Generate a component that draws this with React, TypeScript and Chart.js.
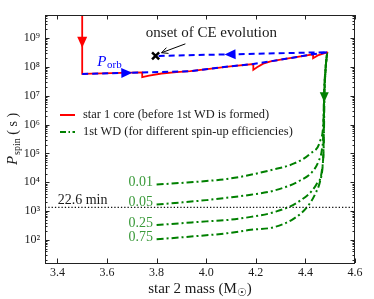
import React, { useEffect, useRef } from "react";
import { Chart, registerables } from "chart.js";
Chart.register(...registerables);

const SERIF = '"Liberation Serif", "DejaVu Serif", serif';

// axis ticks
const xTickValues = [3.4, 3.6, 3.8, 4.0, 4.2, 4.4, 4.6];
const yTickValues = [1e2, 1e3, 1e4, 1e5, 1e6, 1e7, 1e8, 1e9];

// star 1 core (before 1st WD is formed)
const coreMass = [3.5, 3.5, 3.7, 3.742, 3.742, 3.77, 3.82, 3.88, 3.936, 4.097, 4.19, 4.19, 4.205, 4.23, 4.26, 4.3, 4.431, 4.431, 4.45, 4.49];
const corePspin = [1e10, 5.7e7, 6.3e7, 6.4e7, 4.4e7, 5.0e7, 5.9e7, 6.6e7, 7.1e7, 1.05e8, 1.26e8, 7.9e7, 9.8e7, 1.3e8, 1.55e8, 1.78e8, 2.75e8, 2.0e8, 2.5e8, 3.24e8];

// orbital period path
const orbitMass = [3.5, 3.7, 3.936, 4.097, 4.19, 4.3, 4.431, 4.49, 3.796];
const orbitP = [5.7e7, 6.3e7, 7.1e7, 1.05e8, 1.26e8, 1.78e8, 2.75e8, 3.24e8, 2.4e8];

// onset of CE evolution
const ceMass = [3.796];
const ceP = [2.4e8];

// 22.6 min reference
const refMass = [3.35, 4.6];
const refP = [1356, 1356];

// 1st WD curves for spin-up efficiencies
const wdLabels = ["0.01", "0.05", "0.25", "0.75"];
const wd001Mass = [3.8, 3.9, 4.0, 4.084, 4.17, 4.258, 4.352, 4.419, 4.46, 4.473, 4.476, 4.482, 4.488];
const wd001P = [8.3e3, 9.5e3, 1.1e4, 1.3e4, 1.75e4, 2.6e4, 4.4e4, 9.8e4, 2.8e5, 1.4e6, 1e7, 1e8, 3.24e8];
const wd005Mass = [3.8, 3.9, 4.0, 4.084, 4.18, 4.272, 4.379, 4.433, 4.455, 4.466, 4.472, 4.475, 4.482, 4.488];
const wd005P = [1.7e3, 2.0e3, 2.4e3, 2.9e3, 3.7e3, 5.1e3, 1.15e4, 2.6e4, 5.8e4, 1.26e5, 4.9e5, 1e7, 1e8, 3.24e8];
const wd025Mass = [3.8, 3.9, 4.0, 4.084, 4.18, 4.272, 4.379, 4.446, 4.468, 4.473, 4.476, 4.482, 4.488];
const wd025P = [330, 380, 440, 490, 630, 910, 2.3e3, 8.9e3, 3.2e4, 1.6e5, 1e7, 1e8, 3.24e8];
const wd075Mass = [3.8, 3.9, 4.0, 4.084, 4.18, 4.272, 4.352, 4.406, 4.44, 4.46, 4.47, 4.474, 4.477, 4.482, 4.488];
const wd075P = [105, 123, 145, 170, 224, 275, 540, 1350, 4e3, 1.15e4, 4e4, 2e5, 1e7, 1e8, 3.24e8];

const wdMass = [wd001Mass, wd005Mass, wd025Mass, wd075Mass];
const wdP = [wd001P, wd005P, wd025P, wd075P];

// arrow tips (mass, Pspin)
const arrowMass = [3.5, 3.702, 4.074, 4.476];
const arrowP = [4.6e8, 6.3e7, 2.7e8, 6e6];

const pts = (xs: number[], ys: number[]) => xs.map((x, i) => ({ x, y: ys[i] }));
const SUP = "⁰¹²³⁴⁵⁶⁷⁸⁹";

const GREEN = "#008000";
const TEXT = "#1a1a1a";

const decor = {
  id: "decor",
  afterDatasetsDraw(chart: any) {
    const ctx = chart.ctx;
    const a = chart.chartArea;
    const xs = chart.scales.x;
    const ys = chart.scales.y;
    const px = (m: number, p: number) => [xs.getPixelForValue(m), ys.getPixelForValue(p)];
    ctx.save();

    // frame
    ctx.strokeStyle = "#222";
    ctx.lineWidth = 1;
    ctx.strokeRect(a.left + 0.5, a.top + 0.5, a.right - a.left - 1, a.bottom - a.top);

    // ticks
    ctx.beginPath();
    for (const v of xTickValues) {
      const x = Math.round(xs.getPixelForValue(v)) + 0.5;
      ctx.moveTo(x, a.bottom); ctx.lineTo(x, a.bottom - 4.5);
      ctx.moveTo(x, a.top); ctx.lineTo(x, a.top + 4.5);
    }
    for (let n = 0; n <= 10; n++) {
      for (let k = 1; k <= 9; k++) {
        const v = k * Math.pow(10, n);
        if (v < ys.min || v > ys.max) continue;
        const y = Math.round(ys.getPixelForValue(v)) + 0.5;
        const len = k === 1 ? 4.5 : 2.5;
        ctx.moveTo(a.left, y); ctx.lineTo(a.left + len, y);
        ctx.moveTo(a.right, y); ctx.lineTo(a.right - len, y);
      }
    }
    ctx.stroke();

    // filled arrows
    const tri = (m: number, p: number, dx: number, dy: number, len: number, hw: number, col: string) => {
      const [tx, ty] = px(m, p);
      const bx = tx - dx * len, by = ty - dy * len;
      ctx.fillStyle = col;
      ctx.beginPath();
      ctx.moveTo(tx, ty);
      ctx.lineTo(bx - dy * hw, by + dx * hw);
      ctx.lineTo(bx + dy * hw, by - dx * hw);
      ctx.closePath();
      ctx.fill();
    };
    tri(arrowMass[0], arrowP[0], 0, 1, 11, 5, "#ff0000");
    tri(arrowMass[1], arrowP[1], 1, -0.02, 11, 5, "#0000ff");
    tri(arrowMass[2], arrowP[2], -1, 0.03, 11, 5, "#0000ff");
    tri(arrowMass[3], arrowP[3], 0, 1, 10, 4.5, GREEN);

    // annotation arrow
    const [sx, sy] = px(3.916, 6.3e8);
    const [ex, ey] = px(3.82, 3.1e8);
    ctx.strokeStyle = "#000";
    ctx.lineWidth = 1;
    ctx.beginPath();
    ctx.moveTo(sx, sy); ctx.lineTo(ex, ey);
    const ang = Math.atan2(ey - sy, ex - sx);
    for (const s of [-1, 1]) {
      ctx.moveTo(ex, ey);
      ctx.lineTo(ex - 7 * Math.cos(ang + s * 0.45), ey - 7 * Math.sin(ang + s * 0.45));
    }
    ctx.stroke();

    // texts
    ctx.fillStyle = TEXT;
    ctx.textBaseline = "middle";
    ctx.textAlign = "center";
    ctx.font = `15px ${SERIF}`;
    const [cx, cy] = px(4.021, 1.53e9);
    ctx.fillText("onset of CE evolution", cx, cy);

    ctx.font = `14px ${SERIF}`;
    const [rx, ry] = px(3.401, refP[0]);
    ctx.textAlign = "left";
    ctx.textBaseline = "alphabetic";
    ctx.fillText("22.6 min", rx, ry - 3);

    // P_orb
    const [ox, oy] = px(3.561, 1.53e8);
    ctx.fillStyle = "#0000ff";
    ctx.textBaseline = "middle";
    ctx.font = `italic 15px ${SERIF}`;
    ctx.fillText("P", ox, oy);
    const pw = ctx.measureText("P").width;
    ctx.font = `11px ${SERIF}`;
    ctx.fillText("orb", ox + pw + 0.5, oy + 4);

    // efficiency labels
    ctx.fillStyle = "#3a9a3a";
    ctx.font = `14px ${SERIF}`;
    ctx.textAlign = "right";
    ctx.textBaseline = "middle";
    wdLabels.forEach((lab, i) => {
      const [lx, ly] = px(3.785, wdP[i][0]);
      ctx.fillText(lab, lx, ly - 2);
    });

    // legend
    const lx0 = a.left + 15, lx1 = a.left + 30;
    const ly1 = a.top + 100, ly2 = a.top + 117;
    ctx.lineWidth = 2;
    ctx.strokeStyle = "#ff0000";
    ctx.beginPath(); ctx.moveTo(lx0, ly1); ctx.lineTo(lx1, ly1); ctx.stroke();
    ctx.strokeStyle = GREEN;
    ctx.setLineDash([6, 2.5, 1.5, 2.5]);
    ctx.beginPath(); ctx.moveTo(lx0, ly2); ctx.lineTo(lx1, ly2); ctx.stroke();
    ctx.setLineDash([]);
    ctx.fillStyle = TEXT;
    ctx.font = `12.4px ${SERIF}`;
    ctx.textAlign = "left";
    ctx.fillText("star 1 core (before 1st WD is formed)", a.left + 38, ly1);
    ctx.fillText("1st WD (for different spin-up efficiencies)", a.left + 38, ly2);

    // x axis title
    ctx.font = `15px ${SERIF}`;
    const t1 = "star 2 mass (M";
    const w1 = ctx.measureText(t1).width;
    ctx.font = `10.5px ${SERIF}`;
    const w2 = ctx.measureText("☉").width;
    ctx.font = `15px ${SERIF}`;
    const w3 = ctx.measureText(")").width;
    const tot = w1 + w2 + w3;
    const xc = (a.left + a.right) / 2;
    const xx = xc - tot / 2;
    const yb = 293;
    ctx.textBaseline = "alphabetic";
    ctx.fillText(t1, xx, yb);
    ctx.font = `10.5px ${SERIF}`;
    ctx.fillText("☉", xx + w1, yb + 3);
    ctx.font = `15px ${SERIF}`;
    ctx.fillText(")", xx + w1 + w2, yb);

    // y axis title
    ctx.save();
    ctx.translate(17, (a.top + a.bottom) / 2);
    ctx.rotate(-Math.PI / 2);
    ctx.font = `italic 15px ${SERIF}`;
    const pW = ctx.measureText("P").width;
    ctx.font = `10px ${SERIF}`;
    const sW = ctx.measureText("spin").width;
    ctx.font = `14px ${SERIF}`;
    const uW = ctx.measureText(" ( s )").width;
    const s0 = -(pW + sW + uW + 1) / 2;
    ctx.font = `italic 15px ${SERIF}`;
    ctx.fillText("P", s0, 0);
    ctx.font = `10px ${SERIF}`;
    ctx.fillText("spin", s0 + pW + 1, 3);
    ctx.font = `14px ${SERIF}`;
    ctx.fillText(" ( s )", s0 + pW + 1 + sW, 0);
    ctx.restore();

    ctx.restore();
  },
};

export default function App() {
  const ref = useRef<HTMLCanvasElement | null>(null);
  useEffect(() => {
    if (!ref.current) return;
    const wdSets = wdMass.map((m, i) => ({
      label: "wd" + wdLabels[i],
      data: pts(m, wdP[i]),
      borderColor: GREEN,
      borderWidth: 2,
      borderDash: [7, 3, 2, 3],
      pointRadius: 0,
      showLine: true,
      cubicInterpolationMode: "monotone" as const,
      fill: false,
    }));
    const chart = new Chart(ref.current, {
      type: "scatter",
      data: {
        datasets: [
          {
            label: "ce",
            data: pts(ceMass, ceP),
            pointStyle: "crossRot",
            pointRadius: 5,
            borderColor: "#000",
            borderWidth: 2.5,
            showLine: false,
          } as any,
          {
            label: "orbit",
            data: pts(orbitMass, orbitP),
            borderColor: "#0000ff",
            borderWidth: 2,
            borderDash: [6, 4],
            pointRadius: 0,
            showLine: true,
          },
          {
            label: "core",
            data: pts(coreMass, corePspin),
            borderColor: "#ff0000",
            borderWidth: 1.8,
            pointRadius: 0,
            showLine: true,
          },
          {
            label: "ref",
            data: pts(refMass, refP),
            borderColor: "#111",
            borderWidth: 1.3,
            borderDash: [1.3, 2],
            pointRadius: 0,
            showLine: true,
          },
          ...wdSets,
        ],
      },
      options: {
        animation: false,
        responsive: false,
        layout: { padding: { top: 15, right: 19, left: 0, bottom: 0 } },
        plugins: { legend: { display: false }, tooltip: { enabled: false } },
        scales: {
          x: {
            type: "linear",
            min: 3.35,
            max: 4.6,
            grid: { display: false, drawTicks: false, tickLength: 0 },
            border: { display: false },
            afterBuildTicks: (s: any) => { s.ticks = xTickValues.map((v) => ({ value: v })); },
            afterFit: (s: any) => { s.height = 36; },
            ticks: {
              autoSkip: false,
              maxRotation: 0,
              padding: 3,
              color: TEXT,
              font: { family: SERIF, size: 12 },
              callback: (v: any) => Number(v).toFixed(1),
            },
          },
          y: {
            type: "logarithmic",
            min: Math.pow(10, 1.2),
            max: Math.pow(10, 9.8),
            grid: { display: false, drawTicks: false, tickLength: 0 },
            border: { display: false },
            afterBuildTicks: (s: any) => { s.ticks = yTickValues.map((v) => ({ value: v })); },
            afterFit: (s: any) => { s.width = 45; },
            ticks: {
              autoSkip: false,
              padding: 5,
              color: TEXT,
              font: { family: SERIF, size: 12 },
              callback: (v: any) => {
                const e = Math.round(Math.log10(Number(v)));
                return "10" + String(e).split("").map((d) => SUP[Number(d)]).join("");
              },
            },
          },
        },
      },
      plugins: [decor],
    });
    return () => chart.destroy();
  }, []);
  return (
    <div style={{ position: "absolute", left: 0, top: 0, width: 374, height: 299, background: "#fff" }}>
      <canvas ref={ref} width={374} height={299} style={{ display: "block" }} />
    </div>
  );
}
